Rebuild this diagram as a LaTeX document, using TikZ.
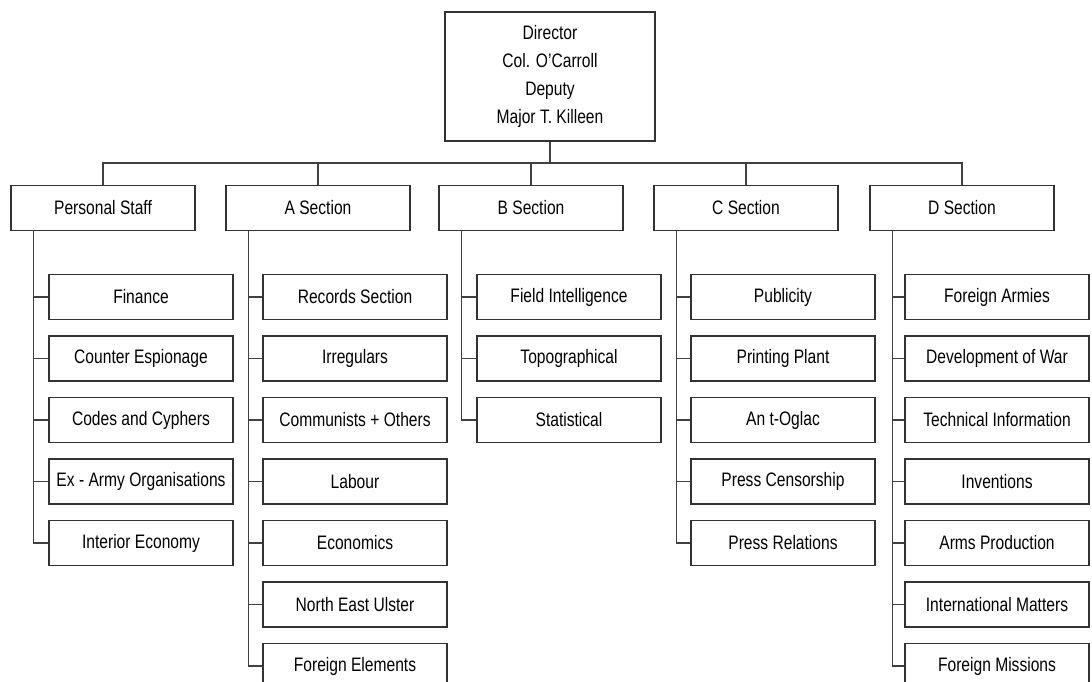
\documentclass[tikz,border=0pt]{standalone}
\usepackage{fontspec}
\setmainfont{Liberation Sans}[FakeStretch=0.8]
\usetikzlibrary{calc}

\begin{document}
\begin{tikzpicture}[x=1pt, y=-1pt,
	box/.style={draw=black!80, line width=1.3pt, fill=white, minimum width=184pt, minimum height=45pt, inner sep=0pt, font=\fontsize{19.5}{28}\selectfont, text=black},
	link/.style={draw=black!75, line width=1.3pt}]
			%%%%% START %%%%%
			
			\useasboundingbox (0,0) rectangle (1092,681);
			
			\node[box, minimum width=210pt, minimum height=129pt, align=center] (dir) at (550,76.5) {Director\\Col. O'Carroll\\Deputy\\Major T. Killeen};
			
			\node[box] (ps) at (103,208) {Personal Staff};
			\node[box] (asec) at (318,208) {A Section};
			\node[box] (bsec) at (531,208) {B Section};
			\node[box] (csec) at (746,208) {C Section};
			\node[box] (dsec) at (962,208) {D Section};
			
			\coordinate (bus) at (550,163);
			\draw[link] (dir.south) -- (bus);
			\draw[link] (ps.north) |- (bus) -| (dsec.north);
			\draw[link] (asec.north) -- (asec.north |- bus);
			\draw[link] (bsec.north) -- (bsec.north |- bus);
			\draw[link] (csec.north) -- (csec.north |- bus);
			
			\node[box] (ps1) at (141,297) {Finance};
			\node[box] (ps2) at (141,358.5) {Counter Espionage};
			\node[box] (ps3) at (141,420) {Codes and Cyphers};
			\node[box] (ps4) at (141,481.5) {Ex - Army Organisations};
			\node[box] (ps5) at (141,543) {Interior Economy};
			
			\node[box] (a1) at (355,297) {Records Section};
			\node[box] (a2) at (355,358.5) {Irregulars};
			\node[box] (a3) at (355,420) {Communists + Others};
			\node[box] (a4) at (355,481.5) {Labour};
			\node[box] (a5) at (355,543) {Economics};
			\node[box] (a6) at (355,604.5) {North East Ulster};
			\node[box] (a7) at (355,666) {Foreign Elements};
			
			\node[box] (b1) at (569,297) {Field Intelligence};
			\node[box] (b2) at (569,358.5) {Topographical};
			\node[box] (b3) at (569,420) {Statistical};
			
			\node[box] (c1) at (783,297) {Publicity};
			\node[box] (c2) at (783,358.5) {Printing Plant};
			\node[box] (c3) at (783,420) {An t-Oglac};
			\node[box] (c4) at (783,481.5) {Press Censorship};
			\node[box] (c5) at (783,543) {Press Relations};
			
			\node[box] (d1) at (997,297) {Foreign Armies};
			\node[box] (d2) at (997,358.5) {Development of War};
			\node[box] (d3) at (997,420) {Technical Information};
			\node[box] (d4) at (997,481.5) {Inventions};
			\node[box] (d5) at (997,543) {Arms Production};
			\node[box] (d6) at (997,604.5) {International Matters};
			\node[box] (d7) at (997,666) {Foreign Missions};
			
			\coordinate (psspine) at ([xshift=23pt]ps.south west);
			\coordinate (aspine) at ([xshift=23pt]asec.south west);
			\coordinate (bspine) at ([xshift=23pt]bsec.south west);
			\coordinate (cspine) at ([xshift=23pt]csec.south west);
			\coordinate (dspine) at ([xshift=23pt]dsec.south west);
			
			\draw[link] (psspine) |- (ps1.west);
			\draw[link] (psspine) |- (ps2.west);
			\draw[link] (psspine) |- (ps3.west);
			\draw[link] (psspine) |- (ps4.west);
			\draw[link] (psspine) |- (ps5.west);
			
			\draw[link] (aspine) |- (a1.west);
			\draw[link] (aspine) |- (a2.west);
			\draw[link] (aspine) |- (a3.west);
			\draw[link] (aspine) |- (a4.west);
			\draw[link] (aspine) |- (a5.west);
			\draw[link] (aspine) |- (a6.west);
			\draw[link] (aspine) |- (a7.west);
			
			\draw[link] (bspine) |- (b1.west);
			\draw[link] (bspine) |- (b2.west);
			\draw[link] (bspine) |- (b3.west);
			
			\draw[link] (cspine) |- (c1.west);
			\draw[link] (cspine) |- (c2.west);
			\draw[link] (cspine) |- (c3.west);
			\draw[link] (cspine) |- (c4.west);
			\draw[link] (cspine) |- (c5.west);
			
			\draw[link] (dspine) |- (d1.west);
			\draw[link] (dspine) |- (d2.west);
			\draw[link] (dspine) |- (d3.west);
			\draw[link] (dspine) |- (d4.west);
			\draw[link] (dspine) |- (d5.west);
			\draw[link] (dspine) |- (d6.west);
			\draw[link] (dspine) |- (d7.west);
			
			%%%%% END %%%%%
\end{tikzpicture}
\end{document}
